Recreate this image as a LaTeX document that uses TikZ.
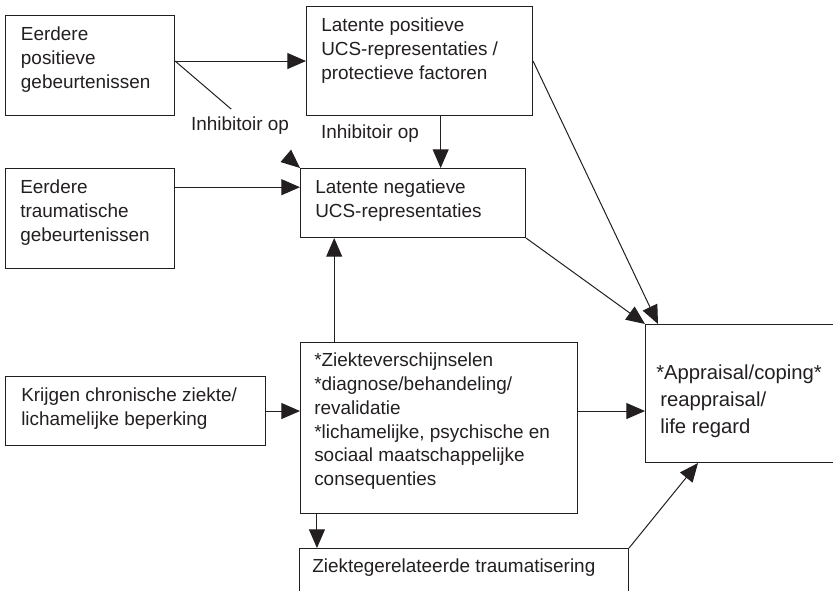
\documentclass[tikz,border=0pt]{standalone}
\usepackage{fontspec}
\setmainfont{Liberation Sans}
\usetikzlibrary{arrows.meta,calc}
\definecolor{ink}{HTML}{231F20}
\tikzset{
  box/.style={draw=ink, line width=0.8pt, anchor=north west, inner sep=0pt},
  txt/.style={anchor=north west, inner sep=0pt, align=left, text=ink,
    font=\fontsize{14.2}{17.8}\selectfont},
  grtxt/.style={txt, font=\fontsize{15.2}{19.9}\selectfont},
  arr/.style={draw=ink, line width=0.75pt, -{Triangle[length=14pt 0,width=12pt 0]}},
  lijn/.style={draw=ink, line width=0.75pt},
}
\begin{document}
\begin{tikzpicture}[x=0.75pt, y=-0.75pt]
	\useasboundingbox (0,0) rectangle (833,591);
	\clip (0,0) rectangle (833,591);
	% Kasten links
	\node[box, minimum width=126.75pt, minimum height=75pt] (pos) at (5,15) {};
	\node[box, minimum width=126.75pt, minimum height=75pt] (trauma) at (5,168) {};
	\node[box, minimum width=195pt, minimum height=51.75pt] (chron) at (5,376) {};
	% Kasten midden
	\node[box, minimum width=169.5pt, minimum height=81.75pt] (latpos) at (306,6) {};
	\node[box, minimum width=168.75pt, minimum height=51.75pt] (latneg) at (300,168) {};
	\node[box, minimum width=207.75pt, minimum height=128.25pt] (ziekte) at (300,342) {};
	\node[box, minimum width=246.75pt, minimum height=60pt] (ztrauma) at (299,548) {};
	% Kasten rechts
	\node[box, minimum width=165pt, minimum height=103.5pt] (apprais) at (645,324) {};
	% Teksten
	\node[txt] (posT) at ($(pos.north west)+(15.7,12)$) {Eerdere\\positieve\\gebeurtenissen};
	\node[txt] (traumaT) at ($(trauma.north west)+(15,12)$) {Eerdere\\traumatische\\gebeurtenissen};
	\node[txt] (chronT) at ($(chron.north west)+(16,12)$) {Krijgen chronische ziekte/\\lichamelijke beperking};
	\node[txt] (latposT) at ($(latpos.north west)+(15,12)$) {Latente positieve\\UCS-representaties /\\protectieve factoren};
	\node[txt] (latnegT) at ($(latneg.north west)+(15,12)$) {Latente negatieve\\UCS-representaties};
	\node[txt] (ziekteT) at ($(ziekte.north west)+(14,11)$) {*Ziekteverschijnselen\\*diagnose/behandeling/\\revalidatie\\*lichamelijke, psychische en\\sociaal maatschappelijke\\consequenties};
	\node[txt] (ztraumaT) at ($(ztrauma.north west)+(13,11)$) {Ziektegerelateerde traumatisering};
	\node[grtxt] (appraisT) at ($(apprais.north west)+(11,41)$) {*Appraisal/coping*\\\hspace*{3pt}reappraisal/\\\hspace*{3pt}life regard};
	\node[txt, anchor=center] (inhA) at (240,126) {Inhibitoir op};
	\node[txt, anchor=center] (inhB) at (370,134) {Inhibitoir op};
	% Pijlen
	\coordinate (posUit) at (pos.east |- latpos.west);
	\draw[arr] (posUit) -- (latpos.west);
	\draw[lijn] (posUit) -- ($(posUit)!0.45!(latneg.north west)$);
	\draw[arr] ($(posUit)!0.9!(latneg.north west)$) -- (latneg.north west);
	\coordinate (remt) at ($(latpos.south west)!0.593!(latpos.south east)$);
	\draw[arr] (remt) -- (remt |- latneg.north);
	\coordinate (traumaUit) at ($(trauma.north east)!0.19!(trauma.south east)$);
	\draw[arr] (traumaUit) -- (traumaUit -| latneg.west);
	\draw[arr] (chron.east) -- (chron.east -| ziekte.west);
	\coordinate (ziekteOp) at ($(ziekte.north west)!0.123!(ziekte.north east)$);
	\draw[arr] (ziekteOp) -- (ziekteOp |- latneg.south);
	\draw[arr] (chron.east -| ziekte.east) -- (chron.east -| apprais.west);
	\coordinate (ziekteNeer) at ($(ziekte.south west)!0.061!(ziekte.south east)$);
	\draw[arr] (ziekteNeer) -- (ziekteNeer |- ztrauma.north);
	\draw[arr] (ztrauma.north east) -- ($(apprais.south west)+(53,0)$);
	\draw[arr] (latneg.south east) -- (apprais.north west);
	\draw[arr] (latpos.east) -- ($(apprais.north west)+(13,0)$);
\end{tikzpicture}
\end{document}
